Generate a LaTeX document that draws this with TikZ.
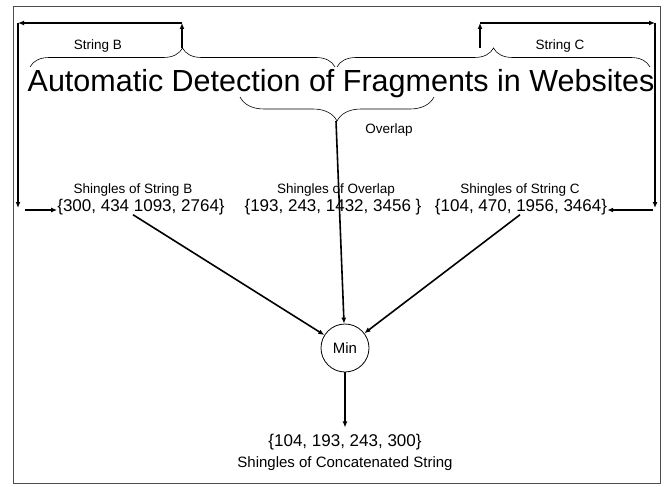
\documentclass[tikz,border=0pt]{standalone}
\usepackage{fontspec}
\setmainfont{Liberation Sans}
\usetikzlibrary{arrows.meta,decorations.pathreplacing,positioning,calc}

\begin{document}
\begin{tikzpicture}[x=1pt,y=-1pt,
    arr/.style={line width=1.6pt,-{Latex[length=6pt,width=5pt]}},
    brc/.style={decorate,decoration={brace,amplitude=#1},line width=0.6pt},
    lbl/.style={font=\fontsize{13.5}{16}\selectfont,inner sep=0pt,anchor=base},
    setlbl/.style={font=\fontsize{17}{20}\selectfont,inner sep=0pt,anchor=base}]
  \useasboundingbox (0,0) rectangle (672,487);
  \draw[line width=0.8pt,black!70] (13,6) rectangle (660,483);

  % title and braces
  \node[font=\fontsize{30.5}{36}\selectfont,inner sep=0pt,anchor=base] (title) at (341,92) {Automatic Detection of Fragments in Websites};
  \draw[brc=19] (30,67) -- (335,67);
  \draw[brc=19] (337,67) -- (650,67);
  \draw[brc=24] (434,97) -- (240,97);
  \node[lbl] (strB) at (98,50) {String B};
  \node[lbl] (strC) at (560,50) {String C};
  \node[lbl] (ovl) at (389,133) {Overlap};

  % shingles
  \node[lbl] (labB) at (133,193) {Shingles of String B};
  \node[lbl] (labO) at (336,193) {Shingles of Overlap};
  \node[lbl] (labC) at (520,193) {Shingles of String C};
  \node[setlbl] (setB) at (141,211) {\{300, 434 1093, 2764\}};
  \node[setlbl] (setO) at (333,211) {\{193, 243, 1432, 3456 \}};
  \node[setlbl] (setC) at (521,211) {\{104, 470, 1956, 3464\}};

  \node[circle,draw,line width=0.8pt,minimum size=48pt,inner sep=0pt,font=\fontsize{15}{18}\selectfont] (min) at (345,348) {Min};
  \node[setlbl] (res) at (345,446) {\{104, 193, 243, 300\}};
  \node[lbl,font=\fontsize{15}{18}\selectfont] (resLab) at (345,467) {Shingles of Concatenated String};

  % routes
  \coordinate (bTip) at (182,48);
  \coordinate (bTop) at (182,23);
  \coordinate (lTop) at (18,23);
  \coordinate (lBot) at (18,208);
  \coordinate (lStart) at (25,210);
  \coordinate (cTip) at (480,48);
  \coordinate (cTop) at (480,23);
  \coordinate (rTop) at (655,23);
  \coordinate (rBot) at (655,208);
  \coordinate (rStart) at (653,210);
  \coordinate (oTip) at (336,121);
  \draw[arr] (bTip) -- (bTop);
  \draw[arr] (bTop) -- (lTop);
  \draw[arr] (lTop) -- (lBot);
  \draw[arr] (lStart) -- (lStart -| setB.west);
  \draw[arr] (cTip) -- (cTop);
  \draw[arr] (cTop) -- (rTop);
  \draw[arr] (rTop) -- (rBot);
  \draw[arr] (rStart) -- (rStart -| setC.east);

  \draw[arr] ([xshift=-8pt]setB.south) -- (min);
  \draw[arr] (oTip) -- (min);
  \draw[arr] ([xshift=-1pt]setC.south) -- (min);
  \draw[arr] (min) -- ([yshift=6pt]res.north);
\end{tikzpicture}
\end{document}
